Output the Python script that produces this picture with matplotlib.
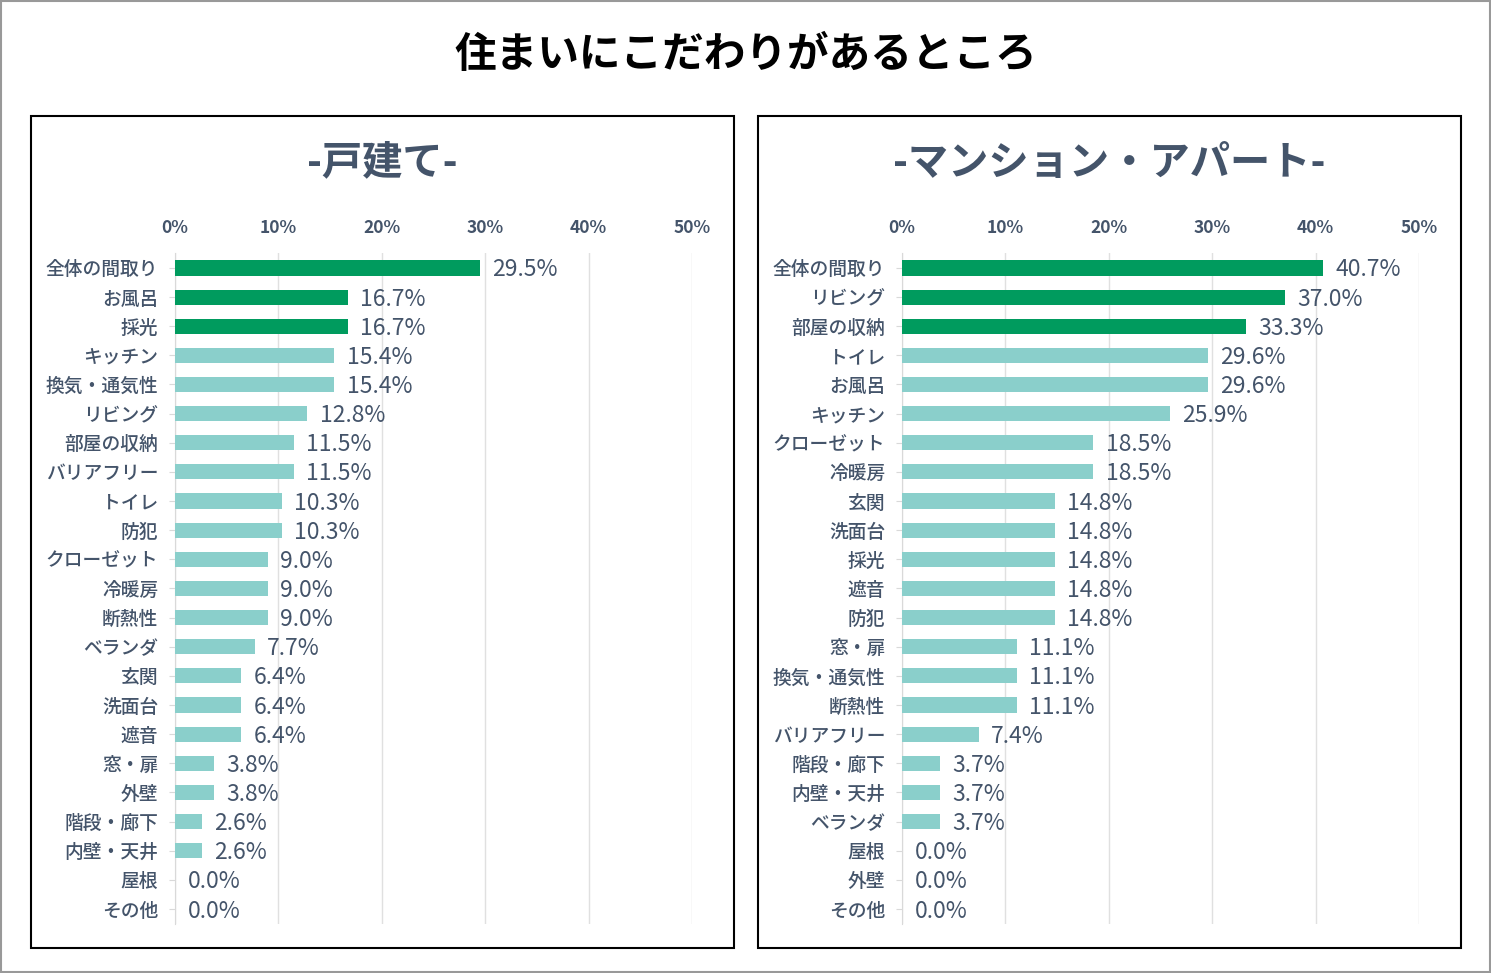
import matplotlib
matplotlib.use("Agg")
import matplotlib.pyplot as plt
from matplotlib.patches import Rectangle

plt.rcParams['font.family'] = ['Noto Sans CJK JP', 'DejaVu Sans']

title = "住まいにこだわりがあるところ"
left_title = "-戸建て-"
left_cats = ["全体の間取り","お風呂","採光","キッチン","換気・通気性","リビング","部屋の収納","バリアフリー","トイレ","防犯","クローゼット","冷暖房","断熱性","ベランダ","玄関","洗面台","遮音","窓・扉","外壁","階段・廊下","内壁・天井","屋根","その他"]
left_vals = [29.5,16.7,16.7,15.4,15.4,12.8,11.5,11.5,10.3,10.3,9.0,9.0,9.0,7.7,6.4,6.4,6.4,3.8,3.8,2.6,2.6,0.0,0.0]
right_title = "-マンション・アパート-"
right_cats = ["全体の間取り","リビング","部屋の収納","トイレ","お風呂","キッチン","クローゼット","冷暖房","玄関","洗面台","採光","遮音","防犯","窓・扉","換気・通気性","断熱性","バリアフリー","階段・廊下","内壁・天井","ベランダ","屋根","外壁","その他"]
right_vals = [40.7,37.0,33.3,29.6,29.6,25.9,18.5,18.5,14.8,14.8,14.8,14.8,14.8,11.1,11.1,11.1,7.4,3.7,3.7,3.7,0.0,0.0,0.0]
ticks = [0,10,20,30,40,50]

DARK = "#009B5E"
LIGHT = "#8ACFCB"
TXT = "#44546A"

fig = plt.figure(figsize=(14.91,9.73), dpi=100)
fig.patches.append(Rectangle((0.001,0.001),0.998,0.998,transform=fig.transFigure,fill=False,ec="#999999",lw=1.5))
fig.text(0.5,1-55/973,title,ha="center",va="center",fontsize=30,fontweight="bold",color="black")

def panel(x0px, box_x0, box_x1, cats, vals, sub):
    W,H=1491,973
    fig.patches.append(Rectangle((box_x0/W,1-948/H),(box_x1-box_x0)/W,(948-116)/H,transform=fig.transFigure,fill=False,ec="black",lw=1.5))
    fig.text((box_x0+box_x1)/2/W,1-163/H,sub,ha="center",va="center",fontsize=29,fontweight="bold",color=TXT)
    ax = fig.add_axes([x0px/W,0.0508,517/W,0.6888])
    n=len(cats)
    y=list(range(n))
    cols=[DARK if i<3 else LIGHT for i in range(n)]
    ax.barh(y,vals,height=0.52,color=cols,zorder=3)
    for yi,v in zip(y,vals):
        ax.text(v+1.2,yi+0.07,f"{v:.1f}%",va="center",ha="left",fontsize=16.5,color=TXT)
    ax.set_ylim(n-0.5,-0.5)
    ax.set_xlim(0,50)
    ax.set_yticks(y)
    ax.set_yticklabels(cats,fontsize=13.5,color=TXT,fontweight="medium")
    ax.set_xticks(ticks)
    ax.set_xticklabels([f"{t}%" for t in ticks],fontsize=12.5,fontweight="bold",color=TXT)
    ax.xaxis.tick_top()
    ax.tick_params(axis="x",length=0,pad=12)
    ax.tick_params(axis="y",length=4,color="#D9D9D9",pad=8)
    ax.grid(axis="x",color="#E0E0E0",lw=1,zorder=0)
    for s in ["top","right","bottom"]:
        ax.spines[s].set_visible(False)
    ax.spines["left"].set_color("#D9D9D9")

panel(175,31,734,left_cats,left_vals,left_title)
panel(902,758,1461,right_cats,right_vals,right_title)

fig.savefig("out.png",dpi=100)
